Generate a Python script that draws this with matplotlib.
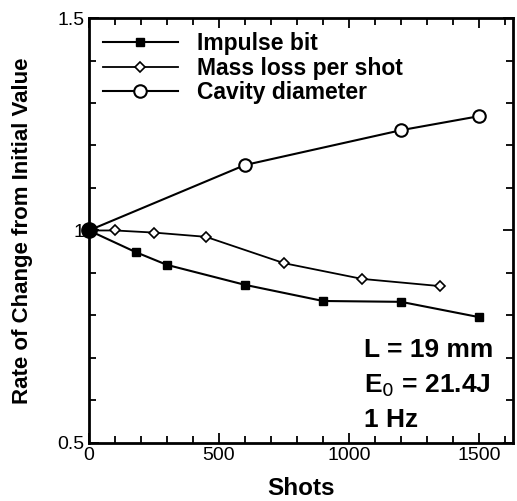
import matplotlib.pyplot as plt
from matplotlib.ticker import MultipleLocator

plt.rcParams['font.family'] = ['Liberation Sans', 'DejaVu Sans']

impulse_shots = [0, 180, 300, 600, 900, 1200, 1500]
impulse_rate = [1.0, 0.949, 0.919, 0.872, 0.834, 0.832, 0.796]

mass_shots = [0, 100, 250, 450, 750, 1050, 1350]
mass_rate = [1.0, 1.0, 0.995, 0.985, 0.923, 0.886, 0.869]

cavity_shots = [0, 600, 1200, 1500]
cavity_rate = [1.0, 1.154, 1.236, 1.269]

fig = plt.figure(figsize=(5.17, 5.01), dpi=100)
ax = fig.add_axes([0.172, 0.116, 0.82, 0.848])

ax.plot(impulse_shots, impulse_rate, '-', color='black', lw=1.5,
        marker='s', ms=6, mfc='black', label='Impulse bit')
ax.plot(mass_shots, mass_rate, '-', color='black', lw=1.3,
        marker='D', ms=5, mfc='white', mew=1.2, label='Mass loss per shot')
ax.plot(cavity_shots, cavity_rate, '-', color='black', lw=1.5,
        marker='o', ms=9, mfc='white', mew=1.5, label='Cavity diameter')
# big dot at the common starting point
ax.plot([0], [1.0], 'o', color='black', ms=11, clip_on=False, zorder=5)

ax.set_xlim(0, 1630)
ax.set_ylim(0.5, 1.5)
ax.set_xticks([0, 500, 1000, 1500])
ax.set_xticklabels(['0', '500', '1000', '1500'])
ax.set_yticks([0.5, 1.0, 1.5])
ax.set_yticklabels(['0.5', '1', '1.5'])
ax.xaxis.set_minor_locator(MultipleLocator(100))
ax.yaxis.set_minor_locator(MultipleLocator(0.1))
ax.tick_params(which='both', direction='in', top=True, right=True,
               width=1.3, labelsize=14, pad=3)
ax.tick_params(which='major', length=7)
ax.tick_params(which='minor', length=5)
for s in ax.spines.values():
    s.set_linewidth(2)

ax.set_xlabel('Shots', fontsize=17.5, fontweight='bold')
ax.set_ylabel('Rate of Change from Initial Value', fontsize=16, fontweight='bold')
ax.xaxis.set_label_coords(0.5, -0.08)
ax.yaxis.set_label_coords(-0.132, 0.5)

ax.legend(loc='upper left', frameon=False, handlelength=3.3, handletextpad=0.8,
          borderaxespad=0.2, labelspacing=0.08, prop={'size': 16.5, 'weight': 'bold'})

ax.text(0.65, 0.136, 'L = 19 mm\nE$_0$ = 21.4J\n1 Hz', transform=ax.transAxes,
        fontsize=19, fontweight='bold', va='center', ha='left', linespacing=1.5)

fig.savefig('out.png', dpi=100)
